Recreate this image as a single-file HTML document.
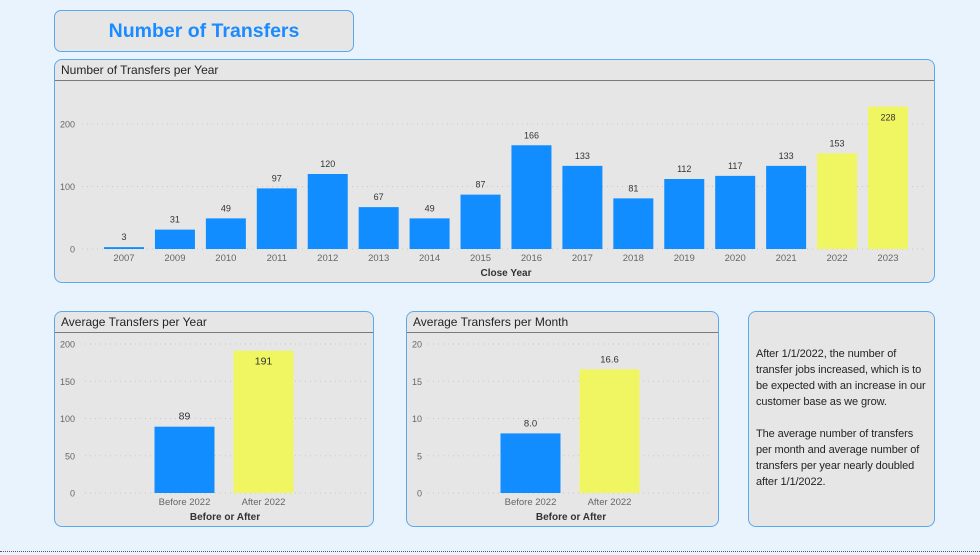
<!DOCTYPE html>
<html><head><meta charset="utf-8"><style>
body{margin:0;width:980px;height:555px;background:#e9f3fd;font-family:"Liberation Sans",sans-serif;position:relative;overflow:hidden}
.panel{position:absolute;background:#e6e6e6;border:1.5px solid #5aa9ef;border-radius:8px;box-sizing:border-box}
.ptitle{position:absolute;left:6px;top:3px;font-size:12px;color:#252423}
.tbar{position:absolute;left:0;right:0;top:20px;border-top:1px solid #7a7a7a}
svg{position:absolute;left:0;top:0}
text{font-family:"Liberation Sans",sans-serif}
</style></head><body>
<div style="position:absolute;left:54px;top:10px;width:300px;height:42px;border:1.5px solid #5aa9ef;border-radius:7px;box-sizing:border-box;background:#e6e6e6;text-align:center;line-height:40px;font-size:19.5px;font-weight:bold;color:#1a8cff" >Number of Transfers</div>

<div class="panel" style="left:54px;top:59px;width:881px;height:224px"><div class="ptitle">Number of Transfers per Year</div><div class="tbar"></div></div>
<div class="panel" style="left:54px;top:311px;width:320px;height:216px"><div class="ptitle">Average Transfers per Year</div><div class="tbar"></div></div>
<div class="panel" style="left:406px;top:311px;width:313px;height:216px"><div class="ptitle">Average Transfers per Month</div><div class="tbar"></div></div>
<div class="panel" style="left:748px;top:311px;width:187px;height:216px">
<div style="position:absolute;left:7px;top:34px;width:174px;font-size:11px;letter-spacing:-0.1px;line-height:16px;color:#252423">After 1/1/2022, the number of transfer jobs increased, which is to be expected with an increase in our customer base as we grow.<br><br>The average number of transfers per month and average number of transfers per year nearly doubled after 1/1/2022.</div></div>
<div style="position:absolute;left:0;right:0;top:551px;border-top:1px dotted #555"></div>

<svg id="chart" width="980" height="555"></svg>
<script>
const years=['2007','2009','2010','2011','2012','2013','2014','2015','2016','2017','2018','2019','2020','2021','2022','2023'];
const yearValues=[3,31,49,97,120,67,49,87,166,133,81,112,117,133,153,228];
const yearTicks=[0,100,200];
const avgCats=['Before 2022','After 2022'];
const avgYearValues=[89,191];
const avgYearTicks=[0,50,100,150,200];
const avgMonthValues=[8.0,16.6];
const avgMonthLabels=['8.0','16.6'];
const avgMonthTicks=[0,5,10,15,20];
const BLUE='#118dff',YEL='#f0f562';
const svg=document.getElementById('chart');
function mk(tag,attrs,txt){const e=document.createElementNS('http://www.w3.org/2000/svg',tag);for(const k in attrs)e.setAttribute(k,attrs[k]);if(txt!==undefined)e.textContent=txt;svg.appendChild(e);return e;}
function chart(o){
  const y=v=>o.y0-(v/o.max)*(o.y0-o.yTop);
  o.ticks.forEach(t=>{
    const g=mk('line',{x1:o.gx1,x2:o.gx2,y1:y(t),y2:y(t),stroke:'#c8c8c8','stroke-dasharray':'1,4'});
    
    const l=mk('text',{x:o.tickX,y:y(t)+3.5,'text-anchor':'end','font-size':9,fill:'#666'},t);
    
  });
  o.cats.forEach((c,i)=>{
    const cx=o.x0+i*o.step,v=o.vals[i],top=y(v),inside=o.inside&&o.inside(v);
    const r=mk('rect',{x:cx-o.bw/2,y:top,width:o.bw,height:o.y0-top,fill:o.color(i)});
    
    const t=mk('text',{x:cx,y:inside?top+14:top-7,'text-anchor':'middle','font-size':o.lfs,fill:'#333'},o.labels?o.labels[i]:v);
    
    const xl=mk('text',{x:cx,y:o.y0+12,'text-anchor':'middle','font-size':9.5,fill:'#666'},c);
    
  });
  const at=mk('text',{x:o.titleX,y:o.y0+27,'text-anchor':'middle','font-size':10,'font-weight':'bold',fill:'#333'},o.axisTitle);
  
}
chart({cats:years,vals:yearValues,ticks:yearTicks,max:200,y0:249,yTop:124,x0:124,step:(888-124)/15,bw:40,gx1:82,gx2:925,tickX:75,lfs:9,
  color:i=>+years[i]>=2022?YEL:BLUE,inside:v=>v>210,axisTitle:'Close Year',titleX:506});
chart({cats:avgCats,vals:avgYearValues,ticks:avgYearTicks,max:200,y0:493,yTop:344,x0:184.5,step:79,bw:60,gx1:85,gx2:366,tickX:75,lfs:10.5,
  color:i=>i?YEL:BLUE,inside:v=>v>180,axisTitle:'Before or After',titleX:225});
chart({cats:avgCats,vals:avgMonthValues,labels:avgMonthLabels,ticks:avgMonthTicks,max:20,y0:493,yTop:344,x0:530.5,step:79,bw:60,gx1:428,gx2:712,tickX:422,lfs:9.5,
  color:i=>i?YEL:BLUE,axisTitle:'Before or After',titleX:571});
</script>
</body></html>
